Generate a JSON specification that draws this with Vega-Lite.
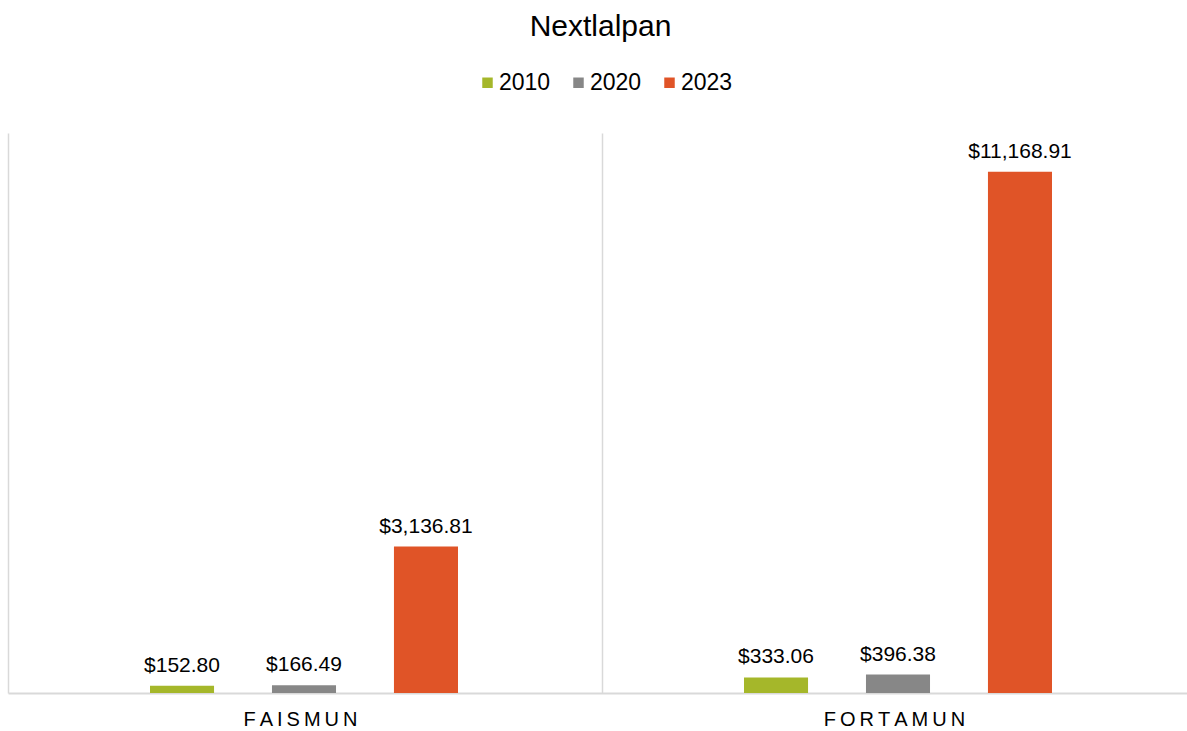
{
  "$schema": "https://vega.github.io/schema/vega-lite/v6.json",
  "width": 1179,
  "height": 560,
  "autosize": {"type": "none"},
  "padding": {"left": 8, "top": 133, "right": 0, "bottom": 38},
  "background": "white",
  "config": {"view": {"stroke": null}},
  "title": {
    "text": "Nextlalpan",
    "fontSize": 30,
    "font": "Liberation Sans",
    "fontWeight": "normal",
    "color": "#000000",
    "anchor": "middle",
    "dx": 3,
    "baseline": "alphabetic",
    "offset": 5
  },
  "data": {
    "values": [
      {"fondo": "FAISMUN", "anio": "2010", "valor": 152.80},
      {"fondo": "FAISMUN", "anio": "2020", "valor": 166.49},
      {"fondo": "FAISMUN", "anio": "2023", "valor": 3136.81},
      {"fondo": "FORTAMUN", "anio": "2010", "valor": 333.06},
      {"fondo": "FORTAMUN", "anio": "2020", "valor": 396.38},
      {"fondo": "FORTAMUN", "anio": "2023", "valor": 11168.91}
    ]
  },
  "encoding": {
    "x": {
      "field": "fondo",
      "type": "nominal",
      "sort": ["FAISMUN", "FORTAMUN"],
      "scale": {"range": [0, 1188], "paddingInner": 0, "paddingOuter": 0},
      "axis": {
        "title": null,
        "ticks": false,
        "grid": true,
        "gridColor": "#d9d9d9",
        "gridWidth": 1.5,
        "domainColor": "#d9d9d9",
        "domainWidth": 2,
        "labelFontSize": 20,
        "labelFont": "Liberation Sans",
        "labelColor": "#000000",
        "labelPadding": 16,
        "labelAngle": 0,
        "labelOffset": -5,
        "labelExpr": "join(split(datum.label, ''), '\u2009')",
        "tickBand": "extent"
      }
    },
    "xOffset": {
      "field": "anio",
      "type": "nominal",
      "sort": ["2010", "2020", "2023"],
      "scale": {"range": [142, 450], "paddingInner": 0.475, "paddingOuter": 0}
    },
    "y": {
      "field": "valor",
      "type": "quantitative",
      "scale": {"domain": [0, 12000]},
      "axis": null
    }
  },
  "layer": [
    {
      "mark": {"type": "bar"},
      "encoding": {
        "color": {
          "field": "anio",
          "type": "nominal",
          "scale": {"domain": ["2010", "2020", "2023"], "range": ["#A5B72A", "#878787", "#E05427"]},
          "legend": {
            "orient": "none",
            "legendX": 468,
            "legendY": -62,
            "direction": "horizontal",
            "title": null,
            "symbolType": "square",
            "symbolSize": 110,
            "symbolStrokeWidth": 0,
            "labelFontSize": 23,
            "labelFont": "Liberation Sans",
            "labelColor": "#000000",
            "labelOffset": 0,
            "columnPadding": 16,
            "padding": 0
          }
        }
      }
    },
    {
      "mark": {"type": "text", "baseline": "alphabetic", "dy": -14, "fontSize": 21, "font": "Liberation Sans", "color": "#000000"},
      "encoding": {
        "text": {"field": "valor", "type": "quantitative", "format": "$,.2f"}
      }
    }
  ]
}
